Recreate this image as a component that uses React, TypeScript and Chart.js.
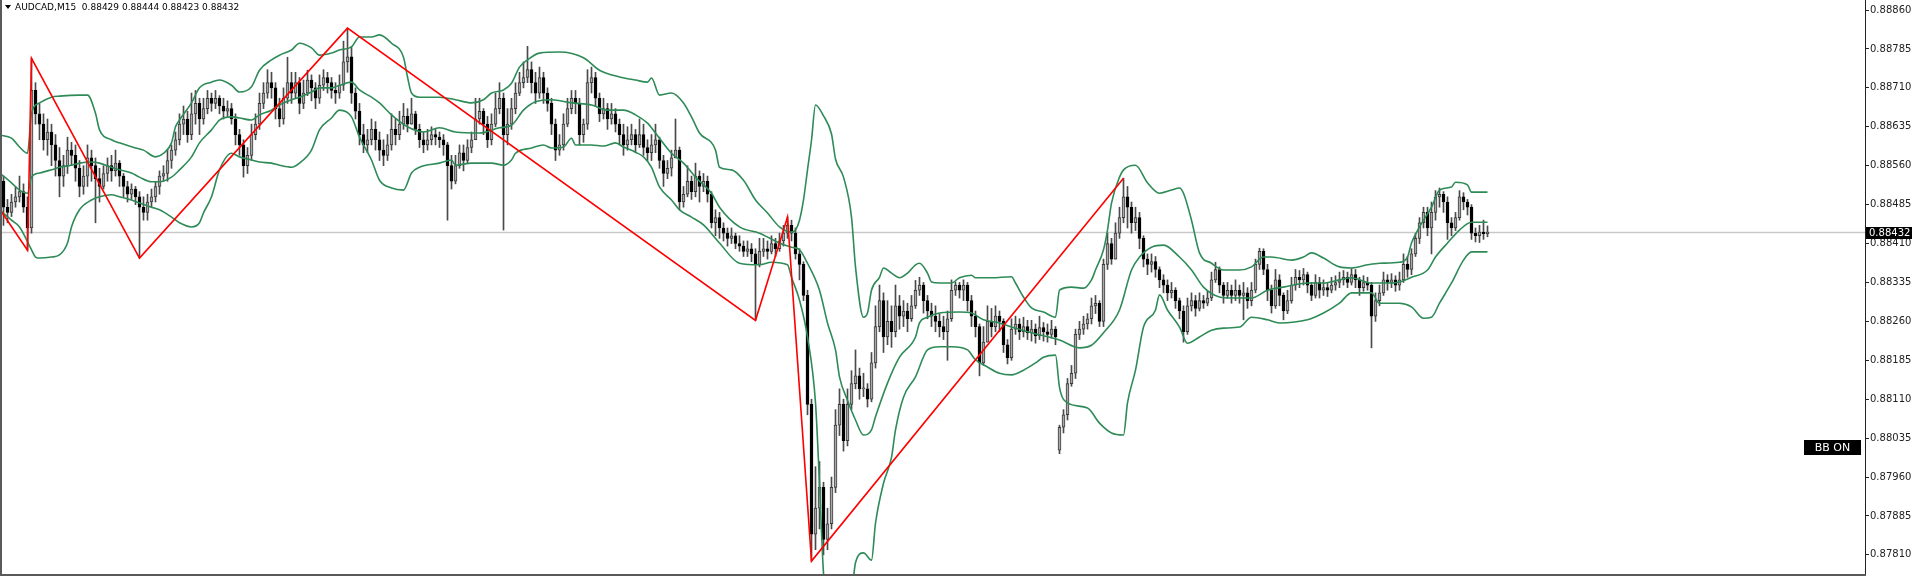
import React, { useEffect, useRef } from "react";
import { Chart, registerables } from "chart.js";

Chart.register(...registerables);

// ---- data (prices in points above 0.88000; 1 point = 0.00001) ----
const BASE = 0.88;
const POINT = 0.00001;
const TITLE = "AUDCAD,M15  0.88429 0.88444 0.88423 0.88432";
const BADGE = "BB ON";
const lastPrice = 0.88432;
const yTicks = [0.8781, 0.87885, 0.8796, 0.88035, 0.8811, 0.88185, 0.8826, 0.88335, 0.8841, 0.88485, 0.8856, 0.88635, 0.8871, 0.88785, 0.8886];

const closes = [
  480, 470, 490, 500, 510, 480, 440, 705, 660, 640, 610, 625, 600, 570, 540, 560, 590, 580, 555, 520,
  540, 575, 560, 535, 520, 545, 560, 550, 565, 540, 520, 505, 515, 500, 480, 470, 490, 500, 520, 540,
  545, 570, 590, 610, 640, 650, 620, 660, 680, 650, 670, 690, 680, 690, 675, 665, 670, 650, 620, 600,
  560, 580, 620, 640, 680, 700, 720, 710, 670, 650, 690, 720, 700, 720, 680, 700, 725, 710, 690, 715,
  730, 720, 705, 700, 715, 760, 770, 700, 665, 620, 600, 610, 630, 610, 590, 580, 600, 630, 620, 640,
  655, 640, 660, 630, 610, 600, 610, 620, 615, 610, 600, 560, 530, 560, 585, 570, 595, 610, 650, 665,
  640, 610, 640, 670, 690, 620, 640, 670, 700, 720, 730, 745, 720, 700, 730, 700, 680, 640, 590, 600,
  640, 670, 690, 680, 620, 640, 720, 730, 690, 660, 670, 650, 660, 640, 620, 600, 610, 620, 600, 620,
  595, 585, 600, 610, 570, 545, 555, 575, 590, 490, 505, 530, 510, 540, 520, 530, 505, 450, 460, 440,
  430, 420, 425, 410, 405, 395, 400, 390, 370, 395, 400, 395, 410, 400, 415, 430, 445, 430, 390, 370,
  310, 100, -150, -100, -60, -160, -130, -60, 60, 100, 30, 100, 140, 155, 130, 130, 110, 180, 250, 300,
  230, 260, 240, 290, 270, 280, 265, 290, 320, 330, 300, 280, 270, 260, 250, 240, 265, 320, 330, 320,
  330, 300, 270, 250, 180, 220, 260, 250, 270, 260, 215, 190, 245, 255, 240, 250, 238, 245, 232, 248,
  240, 235, 245, 230, 56, 80, 140, 160, 235, 245, 255, 265, 290, 295, 260, 370, 410, 380, 430, 460,
  500, 480, 450, 460, 420, 380, 370, 375, 360, 340, 330, 315, 320, 300, 280, 240, 290, 300, 285, 300,
  295, 305, 340, 360, 330, 310, 320, 310, 320, 310, 315, 300, 320, 370, 395, 360, 320, 290, 340, 310,
  280, 300, 330, 345, 340, 350, 330, 310, 335, 320, 325, 320, 330, 335, 340, 345, 335, 350, 340, 325,
  335, 330, 270, 300, 315, 340, 335, 340, 330, 340, 370, 360, 390, 420, 450, 470, 440, 470, 500, 505,
  490, 450, 440, 460, 500, 490, 480, 430, 425, 432, 429, 432,
];

const highs = [
  540, 495, 505, 520, 540, 525, 500, 767, 720, 680, 660, 650, 640, 620, 595, 580, 615, 605, 600, 570,
  560, 600, 590, 575, 555, 560, 575, 580, 590, 570, 545, 530, 525, 520, 510, 500, 505, 515, 530, 550,
  560, 590, 600, 625, 660, 675, 665, 700, 705, 690, 690, 705, 700, 705, 695, 690, 685, 680, 660, 630,
  610, 595, 640, 660, 700, 720, 745, 740, 720, 690, 710, 769, 740, 740, 730, 725, 744, 735, 720, 735,
  745, 740, 730, 720, 735, 800, 825, 790, 710, 680, 640, 630, 650, 645, 625, 610, 620, 660, 650, 665,
  680, 670, 690, 665, 640, 625, 630, 635, 630, 625, 620, 605, 580, 580, 600, 600, 610, 625, 690, 690,
  670, 655, 660, 700, 720, 700, 670, 690, 720, 740, 760, 790, 760, 740, 750, 740, 710, 690, 650, 620,
  660, 690, 705, 705, 690, 650, 745, 750, 740, 700, 690, 680, 680, 670, 650, 640, 635, 640, 630, 650,
  640, 610, 620, 640, 615, 580, 570, 590, 650, 596, 520, 560, 540, 565, 550, 545, 540, 510, 475, 470,
  450, 440, 440, 430, 425, 415, 415, 410, 400, 420, 420, 415, 425, 420, 430, 445, 461, 455, 440, 400,
  375, 320, 110, -20, -10, -50, -100, -40, 90, 130, 110, 130, 165, 205, 170, 160, 140, 200, 290, 330,
  315, 300, 290, 330, 310, 300, 295, 310, 339, 345, 335, 310, 295, 290, 275, 270, 280, 340, 336, 335,
  340, 335, 310, 280, 255, 250, 290, 285, 290, 280, 265, 225, 265, 270, 265, 268, 262, 262, 255, 270,
  258, 255, 262, 250, 60, 90, 150, 175, 245, 260, 270, 275, 305, 310, 300, 380, 430, 420, 450, 480,
  536, 520, 490, 480, 470, 425, 390, 390, 385, 365, 350, 340, 335, 325, 305, 290, 305, 315, 310, 315,
  310, 318, 355, 374, 365, 335, 335, 330, 340, 330, 335, 325, 335, 380, 401, 400, 370, 330, 360, 350,
  315, 320, 345, 360, 358, 362, 355, 335, 350, 345, 340, 335, 345, 348, 355, 358, 355, 362, 360, 345,
  348, 345, 335, 315, 330, 355, 350, 352, 348, 355, 390, 385, 400, 430, 460, 480, 480, 490, 512, 517,
  510, 500, 460, 470, 512, 508, 495, 485, 440, 445, 455, 444,
];

const lows = [
  445, 450, 462, 480, 490, 470, 397, 430, 640, 610, 590, 580, 560, 540, 500, 520, 545, 560, 530, 500,
  505, 520, 530, 450, 490, 515, 530, 530, 540, 520, 500, 490, 495, 485, 382, 455, 455, 480, 490, 505,
  530, 530, 555, 580, 600, 620, 605, 610, 640, 620, 640, 660, 665, 670, 660, 650, 655, 640, 600, 580,
  538, 545, 570, 610, 630, 670, 690, 690, 650, 635, 640, 680, 680, 690, 660, 670, 695, 685, 670, 680,
  705, 700, 690, 680, 690, 705, 740, 680, 650, 600, 585, 585, 600, 590, 570, 560, 570, 590, 600, 610,
  630, 625, 640, 620, 595, 585, 590, 600, 600, 595, 580, 455, 515, 525, 555, 550, 565, 585, 620, 640,
  620, 595, 600, 635, 660, 436, 600, 630, 660, 695, 710, 720, 700, 680, 690, 680, 665, 620, 570, 580,
  590, 635, 660, 660, 600, 605, 630, 700, 675, 645, 650, 630, 640, 625, 600, 580, 590, 600, 585, 595,
  580, 570, 570, 585, 555, 520, 535, 540, 580, 475, 480, 500, 495, 500, 490, 510, 490, 440, 425, 420,
  415, 405, 410, 400, 395, 385, 385, 375, 262, 365, 385, 380, 390, 385, 395, 405, 420, 415, 380, 340,
  300, 80, -202, -180, -140, -190, -180, -140, -70, 40, 10, 20, 90, 130, 110, 115, 95, 105, 170, 240,
  200, 215, 210, 230, 245, 250, 240, 260, 285, 310, 276, 265, 250, 240, 230, 225, 185, 260, 310, 305,
  300, 280, 250, 230, 155, 175, 235, 230, 240, 240, 200, 178, 185, 235, 225, 230, 225, 222, 218, 225,
  222, 220, 228, 215, 5, 45, 70, 135, 150, 225, 235, 245, 255, 275, 250, 250, 360, 370, 380, 420,
  450, 440, 430, 435, 400, 365, 350, 355, 345, 325, 315, 300, 305, 285, 265, 220, 235, 280, 270, 280,
  285, 290, 300, 335, 315, 295, 305, 295, 300, 295, 263, 285, 290, 315, 360, 350, 300, 276, 285, 290,
  263, 275, 295, 320, 325, 330, 315, 300, 305, 305, 310, 308, 315, 320, 325, 330, 325, 330, 325, 310,
  318, 320, 209, 260, 290, 310, 320, 325, 318, 320, 335, 345, 350, 385, 410, 440, 425, 390, 455, 480,
  470, 418, 425, 435, 455, 475, 465, 418, 413, 412, 418, 423,
];

// candles whose open is not the previous close (first bar, weekend gap)
const openOverrides: [number, number][] = [[0, 530], [264, 12]];

// Bollinger bands: [bar index, points]
const upperBand: [number, number][] = [
  [-1, 619], [2, 613], [4, 596], [6, 584], [7, 661], [9, 681], [12, 692], [14, 694], [19, 696], [21, 696],
  [23, 661], [24, 629], [27, 610], [29, 604], [33, 594], [35, 590], [38, 577], [40, 584], [42, 604], [43, 635],
  [44, 648], [47, 681], [49, 710], [52, 721], [54, 725], [57, 715], [59, 702], [62, 712], [64, 744], [67, 764],
  [69, 773], [72, 783], [74, 796], [77, 787], [79, 773], [82, 777], [84, 783], [87, 789], [89, 808], [92, 808],
  [94, 812], [97, 796], [100, 769], [101, 731], [102, 700], [104, 692], [109, 692], [113, 687], [117, 681], [120, 687],
  [122, 700], [125, 706], [127, 719], [129, 750], [131, 764], [134, 777], [139, 779], [145, 768], [149, 744], [154, 731],
  [158, 725], [161, 721], [162, 729], [164, 696], [167, 700], [170, 681], [172, 654], [174, 623], [178, 590], [179, 557],
  [182, 552], [185, 532], [188, 494], [191, 469], [194, 442], [197, 432], [198, 436], [199, 455], [200, 494], [201, 552],
  [202, 609], [203, 677], [205, 656], [207, 621], [208, 573], [210, 538], [212, 461], [213, 365], [215, 268], [216, 276],
  [217, 320], [219, 345], [220, 363], [222, 353], [224, 344], [226, 353], [228, 369], [229, 372], [231, 353], [232, 336],
  [234, 334], [237, 334], [239, 344], [242, 349], [243, 344], [247, 344], [252, 346], [253, 334], [255, 307], [257, 286],
  [260, 278], [263, 268], [264, 320], [267, 326], [270, 324], [272, 340], [273, 359], [275, 398], [276, 436], [277, 488],
  [279, 538], [280, 552], [283, 561], [286, 527], [289, 507], [292, 513], [294, 517], [295, 507], [297, 455], [299, 392],
  [302, 372], [305, 359], [309, 359], [312, 365], [315, 384], [317, 384], [322, 378], [325, 384], [327, 392], [330, 382],
  [334, 365], [337, 363], [341, 369], [344, 372], [349, 374], [351, 384], [352, 411], [354, 442], [357, 480], [359, 513],
  [362, 519], [363, 528], [366, 523], [367, 509], [371, 509],
];

const middleBand: [number, number][] = [
  [-1, 546], [2, 527], [4, 513], [6, 507], [7, 538], [9, 546], [12, 552], [14, 557], [17, 561], [19, 565],
  [22, 567], [24, 565], [27, 557], [29, 552], [32, 546], [34, 538], [37, 529], [39, 529], [42, 538], [44, 552],
  [47, 577], [49, 604], [52, 629], [54, 648], [57, 654], [59, 652], [62, 648], [64, 658], [67, 667], [69, 677],
  [72, 687], [74, 692], [77, 702], [79, 710], [82, 710], [84, 715], [87, 721], [89, 706], [92, 692], [94, 681],
  [97, 658], [101, 635], [105, 625], [109, 633], [113, 625], [119, 623], [124, 633], [127, 638], [130, 667], [133, 683],
  [137, 687], [142, 681], [147, 677], [151, 667], [155, 667], [158, 658], [161, 642], [163, 623], [167, 584], [170, 565],
  [173, 538], [177, 507], [179, 480], [184, 442], [189, 430], [194, 411], [197, 403], [199, 398], [201, 372], [204, 320],
  [206, 257], [208, 205], [209, 153], [211, 108], [213, 70], [215, 41], [217, 51], [218, 76], [221, 141], [224, 191],
  [228, 230], [229, 257], [231, 268], [234, 276], [239, 278], [242, 276], [245, 263], [249, 257], [252, 249], [257, 238],
  [264, 224], [269, 209], [272, 214], [275, 238], [279, 282], [282, 359], [284, 384], [287, 403], [290, 407], [294, 384],
  [297, 359], [300, 326], [304, 307], [307, 305], [312, 305], [316, 320], [320, 326], [326, 334], [330, 334], [334, 340],
  [337, 344], [342, 334], [347, 334], [349, 336], [352, 345], [356, 359], [358, 384], [361, 411], [364, 436], [367, 451],
  [371, 451],
];

const lowerBand: [number, number][] = [
  [-1, 475], [2, 455], [4, 442], [7, 398], [8, 384], [9, 382], [12, 384], [14, 388], [16, 411], [17, 442],
  [19, 475], [22, 494], [24, 500], [27, 504], [29, 500], [32, 494], [34, 488], [37, 480], [39, 475], [42, 461],
  [44, 450], [47, 442], [49, 450], [50, 469], [52, 500], [54, 552], [57, 584], [59, 577], [62, 571], [64, 567],
  [67, 565], [69, 561], [72, 557], [74, 565], [77, 590], [79, 629], [82, 652], [84, 667], [87, 654], [89, 615],
  [92, 571], [94, 532], [97, 517], [100, 513], [102, 546], [104, 557], [109, 565], [112, 571], [113, 561], [117, 565],
  [122, 565], [125, 561], [127, 571], [128, 584], [132, 594], [135, 600], [137, 594], [140, 596], [142, 613], [143, 600],
  [147, 600], [150, 598], [153, 604], [155, 596], [158, 586], [160, 577], [162, 557], [164, 519], [167, 494], [169, 475],
  [172, 461], [175, 446], [179, 411], [184, 372], [189, 369], [192, 374], [196, 369], [197, 345], [199, 301], [201, 230],
  [203, 103], [204, -52], [205, -225], [207, -330], [209, -380], [211, -360], [213, -205], [215, -186], [217, -200], [218, -129],
  [220, -52], [222, -2], [223, 51], [225, 114], [228, 153], [231, 205], [234, 211], [237, 211], [241, 205], [243, 186],
  [246, 172], [249, 160], [252, 157], [255, 166], [258, 180], [260, 191], [263, 195], [264, 133], [266, 103], [271, 93],
  [274, 64], [277, 45], [280, 41], [281, 103], [283, 166], [285, 249], [288, 282], [289, 311], [291, 282], [294, 249],
  [296, 218], [299, 230], [302, 243], [305, 247], [309, 249], [312, 268], [316, 263], [319, 257], [326, 263], [330, 276],
  [334, 295], [337, 315], [342, 315], [344, 295], [349, 295], [352, 288], [355, 266], [357, 268], [359, 295], [362, 334],
  [365, 378], [367, 394], [371, 394],
];

// ZigZag turning points: [bar index, points]
const zigzag: [number, number][] = [
  [-6, 534], [6, 397], [7, 767], [34, 382], [86, 825], [188, 262], [196, 461], [202, -202], [280, 536],
];

const toPrice = (p: number) => +(BASE + p * POINT).toFixed(6);

const W = 1915;
const H = 577;
const AXIS_W = 50;

export default function App() {
  const ref = useRef<HTMLCanvasElement | null>(null);

  useEffect(() => {
    const canvas = ref.current;
    if (!canvas) return;

    const opens = closes.map((c, i) => (i === 0 ? c : closes[i - 1]));
    openOverrides.forEach(([i, o]) => { opens[i] = o; });

    const bodies = closes.map((c, i) => ({ x: i, y: [toPrice(opens[i]), toPrice(c)] }));
    const wicks = closes.map((c, i) => ({
      x: i,
      y: [toPrice(Math.min(lows[i], opens[i], c)), toPrice(Math.max(highs[i], opens[i], c))],
    }));
    const bull = closes.map((c, i) => c >= opens[i]);
    const bodyFill = bull.map((b) => (b ? "#a9a9a9" : "#000000"));
    const bodyEdge = bull.map((b) => (b ? "#3a3a3a" : "#000000"));
    const pts = (arr: [number, number][]) => arr.map(([x, p]) => ({ x, y: toPrice(p) }));

    const overlay = {
      id: "mtOverlay",
      beforeDatasetsDraw(chart: any) {
        const { ctx, chartArea, scales } = chart;
        const py = Math.round(scales.y.getPixelForValue(lastPrice)) + 0.5;
        ctx.save();
        ctx.strokeStyle = "#c9c9c9";
        ctx.lineWidth = 1.5;
        ctx.beginPath();
        ctx.moveTo(chartArea.left, py);
        ctx.lineTo(chartArea.right, py);
        ctx.stroke();
        ctx.restore();
      },
      afterDraw(chart: any) {
        const { ctx, chartArea, scales } = chart;
        ctx.save();
        // frame
        ctx.fillStyle = "#5a5a5a";
        ctx.fillRect(0, 0, 2, chartArea.bottom + 2);
        ctx.fillRect(0, chartArea.bottom, chartArea.right + 1, 2);
        // last price label on axis
        const py = scales.y.getPixelForValue(lastPrice);
        ctx.fillStyle = "#000";
        ctx.fillRect(chartArea.right + 1, Math.round(py) - 5, 46, 12);
        ctx.fillStyle = "#fff";
        ctx.font = '10px "DejaVu Sans"';
        ctx.textBaseline = "middle";
        ctx.textAlign = "left";
        ctx.fillText(lastPrice.toFixed(5), chartArea.right + 4, Math.round(py) + 1);
        // BB ON badge
        ctx.fillStyle = "#000";
        ctx.fillRect(1804, 440, 57, 15);
        ctx.fillStyle = "#fff";
        ctx.font = '11px "DejaVu Sans"';
        ctx.textAlign = "center";
        ctx.fillText(BADGE, 1832.5, 448);
        // title
        ctx.fillStyle = "#000";
        ctx.beginPath();
        ctx.moveTo(5, 5);
        ctx.lineTo(11, 5);
        ctx.lineTo(8, 9);
        ctx.closePath();
        ctx.fill();
        ctx.font = '9px "DejaVu Sans"';
        ctx.textAlign = "left";
        ctx.textBaseline = "middle";
        ctx.fillText(TITLE, 15, 7.5);
        ctx.restore();
      },
    };

    const chart = new Chart(canvas, {
      type: "bar",
      data: {
        datasets: [
          {
            type: "line",
            data: pts(zigzag),
            borderColor: "#ff0000",
            borderWidth: 1.6,
            pointRadius: 0,
            tension: 0,
            order: 0,
          } as any,
          {
            type: "line",
            data: pts(upperBand),
            borderColor: "#2e8b57",
            borderWidth: 1.6,
            pointRadius: 0,
            cubicInterpolationMode: "monotone",
            order: 1,
          } as any,
          {
            type: "line",
            data: pts(middleBand),
            borderColor: "#2e8b57",
            borderWidth: 1.6,
            pointRadius: 0,
            cubicInterpolationMode: "monotone",
            order: 1,
          } as any,
          {
            type: "line",
            data: pts(lowerBand),
            borderColor: "#2e8b57",
            borderWidth: 1.6,
            pointRadius: 0,
            cubicInterpolationMode: "monotone",
            order: 1,
          } as any,
          {
            type: "bar",
            data: bodies,
            backgroundColor: bodyFill,
            borderColor: bodyEdge,
            borderWidth: 1,
            borderSkipped: false,
            barThickness: 3,
            minBarLength: 1,
            grouped: false,
            order: 2,
          } as any,
          {
            type: "bar",
            data: wicks,
            backgroundColor: "#4a4a4a",
            borderWidth: 0,
            barThickness: 1,
            grouped: false,
            order: 3,
          } as any,
        ],
      },
      options: {
        responsive: false,
        animation: false,
        devicePixelRatio: 1,
        events: [],
        layout: { padding: { left: 2, top: 0, right: 0, bottom: 3 } },
        plugins: { legend: { display: false }, tooltip: { enabled: false } },
        scales: {
          x: {
            type: "linear",
            display: false,
            offset: false,
            min: -0.375,
            max: 465.375,
          },
          y: {
            type: "linear",
            position: "right",
            min: 0.877732,
            max: 0.888793,
            afterFit: (scale: any) => {
              scale.width = AXIS_W;
              scale.paddingTop = 0;
              scale.paddingBottom = 0;
            },
            afterBuildTicks: (scale: any) => {
              scale.ticks = yTicks.map((v) => ({ value: v }));
            },
            border: { display: true, color: "#222", width: 1 },
            grid: { drawOnChartArea: false, drawTicks: true, tickLength: 4, color: "#222" },
            ticks: {
              padding: 1,
              color: "#222",
              font: { family: "DejaVu Sans", size: 10 },
              callback: (v: any) => Number(v).toFixed(5),
            },
          },
        },
      },
      plugins: [overlay],
    } as any);

    return () => chart.destroy();
  }, []);

  return (
    <div style={{ position: "fixed", left: 0, top: 0, width: W, height: H, background: "#fff" }}>
      <canvas ref={ref} width={W} height={H} style={{ display: "block", width: W, height: H }} />
    </div>
  );
}
